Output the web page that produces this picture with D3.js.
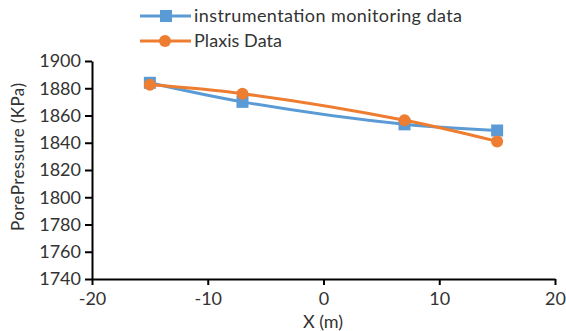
<!DOCTYPE html>
<html>
<head>
<meta charset="utf-8">
<script src="https://cdn.jsdelivr.net/npm/d3@7"></script>
<style>
  html, body { margin: 0; padding: 0; background: #fff; }
  svg { display: block; font-family: Lato, "Open Sans", sans-serif; }
</style>
</head>
<body>
<svg id="chart" width="566" height="331"></svg>
<script>
// Pore pressure along the section: field instruments vs. Plaxis model
const xPositions = [-15, -7, 7, 15];
const monitoringValues = [1884, 1870, 1853.5, 1849];
const plaxisValues = [1882.5, 1876, 1856.5, 1841];
const xTicks = [-20, -10, 0, 10, 20];
const yTicks = [1740, 1760, 1780, 1800, 1820, 1840, 1860, 1880, 1900];
const seriesNames = ["instrumentation monitoring data", "Plaxis Data"];

const blue = "#5B9BD5";
const orange = "#ED7D31";

const svg = d3.select("#chart");
const plot = { left: 92, right: 555, top: 61, bottom: 279 };

const x = d3.scaleLinear().domain([-20, 20]).range([plot.left, plot.right]);
const y = d3.scaleLinear().domain([1740, 1900]).range([plot.bottom, plot.top]);

// Axes
const yAxis = svg.append("g")
  .attr("transform", `translate(${plot.left},0)`)
  .call(d3.axisLeft(y).tickValues(yTicks).tickSize(7).tickPadding(4).tickSizeOuter(0)
    .tickFormat(d3.format("d")));
const xAxis = svg.append("g")
  .attr("transform", `translate(0,${plot.bottom})`)
  .call(d3.axisBottom(x).tickValues(xTicks).tickSize(6).tickPadding(7).tickSizeOuter(0)
    .tickFormat(d => d < 0 ? "-" + Math.abs(d) : d));

[yAxis, xAxis].forEach(g => {
  g.select(".domain").attr("stroke", "#000").attr("stroke-width", 2);
  g.selectAll(".tick line").attr("stroke", "#000").attr("stroke-width", 2);
  g.selectAll(".tick text").attr("fill", "#333").style("font-size", "18px")
    .style("font-family", "Lato, sans-serif");
});

// Axis titles
svg.append("text")
  .attr("x", 323).attr("y", 328)
  .attr("text-anchor", "middle")
  .attr("fill", "#333")
  .style("font-size", "18px")
  .text("X (m)");

svg.append("text")
  .attr("transform", "translate(24,157) rotate(-90)")
  .attr("text-anchor", "middle")
  .attr("fill", "#333")
  .style("font-size", "17px")
  .attr("textLength", 148)
  .text("PorePressure (KPa)");

// Series
const line = d3.line()
  .x(d => x(d[0]))
  .y(d => y(d[1]))
  .curve(d3.curveCatmullRom.alpha(0.5));

const monitoring = xPositions.map((v, i) => [v, monitoringValues[i]]);
const plaxis = xPositions.map((v, i) => [v, plaxisValues[i]]);

svg.append("path").datum(monitoring)
  .attr("d", line).attr("fill", "none")
  .attr("stroke", blue).attr("stroke-width", 3);

svg.selectAll(".sq").data(monitoring).enter().append("rect")
  .attr("x", d => x(d[0]) - 6).attr("y", d => y(d[1]) - 6)
  .attr("width", 12).attr("height", 12)
  .attr("fill", blue);

svg.append("path").datum(plaxis)
  .attr("d", line).attr("fill", "none")
  .attr("stroke", orange).attr("stroke-width", 3);

svg.selectAll(".dot").data(plaxis).enter().append("circle")
  .attr("cx", d => x(d[0])).attr("cy", d => y(d[1]))
  .attr("r", 6)
  .attr("fill", orange);

// Legend
const legend = svg.append("g");
const legendRows = [
  { name: seriesNames[0], color: blue, shape: "square", y: 16, len: 268 },
  { name: seriesNames[1], color: orange, shape: "circle", y: 41, len: 88 }
];
legendRows.forEach(r => {
  legend.append("line")
    .attr("x1", 140).attr("x2", 191).attr("y1", r.y).attr("y2", r.y)
    .attr("stroke", r.color).attr("stroke-width", 3);
  if (r.shape === "square") {
    legend.append("rect").attr("x", 160).attr("y", r.y - 6)
      .attr("width", 12).attr("height", 12).attr("fill", r.color);
  } else {
    legend.append("circle").attr("cx", 165).attr("cy", r.y).attr("r", 6)
      .attr("fill", r.color);
  }
  legend.append("text")
    .attr("x", 194).attr("y", r.y).attr("dy", "0.35em")
    .attr("fill", "#333")
    .style("font-size", "18px")
    .attr("textLength", r.len)
    .text(r.name);
});
</script>
</body>
</html>
